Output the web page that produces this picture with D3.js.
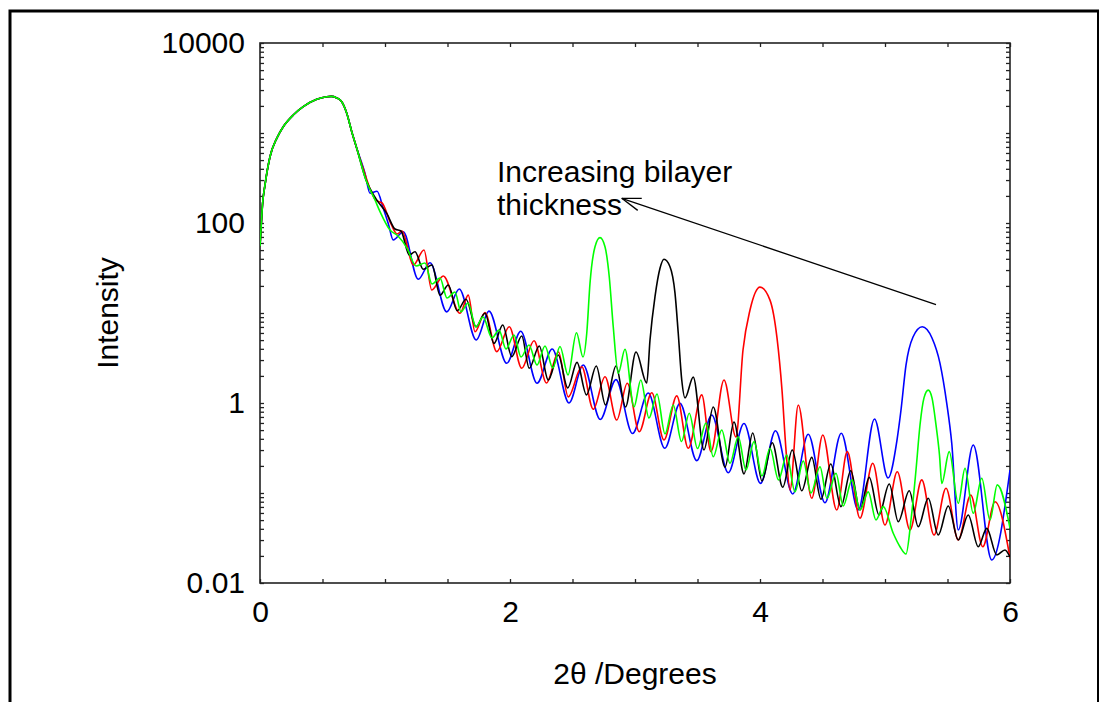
<!DOCTYPE html>
<html><head><meta charset="utf-8">
<script src="https://cdn.jsdelivr.net/npm/d3@7"></script>
<style>
body{margin:0;background:#fff}
svg text{font-family:"Liberation Sans",Arial,Helvetica,sans-serif}
</style>
</head><body>
<svg id="c" width="1099" height="702"></svg>
<script>
// ---------- data ----------
const xTickLabels = [0, 2, 4, 6];
const yTickLabels = [0.01, 1, 100, 10000];
const xLabel = "2\u03B8 /Degrees";
const yLabel = "Intensity";
const noteLines = ["Increasing bilayer", "thickness"];
const arrowX = [5.408, 2.894];
const arrowY = [12.4, 188];

// shared critical-edge part (all four scans)
const commonX = [0, 0.01, 0.02, 0.04, 0.08, 0.134, 0.186, 0.266, 0.346, 0.454, 0.534, 0.57, 0.61, 0.654, 0.694, 0.734, 0.774];
const commonY = [55, 95, 160, 265, 545, 873, 1175, 1585, 1960, 2366, 2530, 2550, 2470, 2228, 1656, 1033, 676];

const blueX = [0.84, 0.88, 0.936, 0.986, 1.026, 1.066, 1.146, 1.266, 1.36, 1.494, 1.594, 1.73, 1.832, 1.974, 2.086, 2.216, 2.338, 2.472, 2.586, 2.722, 2.848, 2.98, 3.106, 3.238, 3.36, 3.494, 3.614, 3.746, 3.872, 4.004, 4.124, 4.262, 4.386, 4.52, 4.65, 4.786, 4.916, 5.024, 5.096, 5.128, 5.168, 5.224, 5.298, 5.376, 5.44, 5.494, 5.534, 5.586, 5.706, 5.854, 6.0];
const blueY = [356, 214, 225, 146, 99, 64.7, 80, 23.7, 36.2, 10.3, 18.5, 5.01, 10.5, 2.76, 6.26, 1.66, 3.98, 1.0, 2.64, 0.656, 1.82, 0.458, 1.29, 0.314, 0.99, 0.229, 0.736, 0.168, 0.592, 0.128, 0.492, 0.0975, 0.449, 0.078, 0.461, 0.0647, 0.664, 0.147, 0.388, 0.836, 2.64, 5.41, 7.04, 5.28, 2.76, 0.99, 0.357, 0.0388, 0.341, 0.018, 0.18];

const redX = [0.824, 0.928, 0.976, 1.048, 1.096, 1.136, 1.226, 1.312, 1.374, 1.466, 1.6, 1.666, 1.72, 1.8, 1.894, 1.994, 2.094, 2.192, 2.292, 2.388, 2.466, 2.574, 2.666, 2.76, 2.854, 2.938, 3.034, 3.134, 3.232, 3.334, 3.426, 3.534, 3.608, 3.712, 3.808, 3.864, 3.92, 4.0, 4.08, 4.136, 4.176, 4.208, 4.24, 4.306, 4.414, 4.502, 4.614, 4.698, 4.8, 4.902, 5.0, 5.098, 5.2, 5.294, 5.392, 5.488, 5.586, 5.686, 5.782, 5.88, 6.0];
const redY = [408, 178, 167, 97.5, 75.5, 81.5, 34.1, 50.1, 18.0, 25.8, 9.93, 15.8, 6.2, 10.1, 3.72, 7.04, 2.43, 4.92, 1.67, 3.69, 1.17, 2.53, 0.851, 1.96, 0.647, 1.66, 0.48, 1.30, 0.388, 1.20, 0.314, 1.23, 0.288, 1.80, 0.419, 3.88, 10.8, 19.4, 13.9, 5.28, 1.39, 0.301, 0.108, 0.95, 0.0873, 0.441, 0.0647, 0.288, 0.0524, 0.214, 0.0441, 0.172, 0.0388, 0.14, 0.0341, 0.113, 0.0301, 0.095, 0.0253, 0.08, 0.019];

const blackX = [0.848, 0.928, 1.014, 1.08, 1.128, 1.194, 1.24, 1.306, 1.376, 1.44, 1.506, 1.578, 1.648, 1.728, 1.8, 1.872, 1.942, 2.014, 2.094, 2.154, 2.234, 2.306, 2.386, 2.462, 2.536, 2.612, 2.69, 2.764, 2.848, 2.924, 3.008, 3.094, 3.12, 3.16, 3.2, 3.232, 3.28, 3.32, 3.346, 3.374, 3.4, 3.466, 3.552, 3.626, 3.72, 3.792, 3.872, 3.942, 4.016, 4.098, 4.182, 4.258, 4.334, 4.414, 4.488, 4.566, 4.648, 4.726, 4.8, 4.874, 4.952, 5.034, 5.106, 5.194, 5.266, 5.346, 5.426, 5.506, 5.586, 5.666, 5.746, 5.814, 5.894, 5.96, 6.0];
const blackY = [300, 185, 128, 85.8, 81.5, 44.1, 48.0, 30.6, 34.1, 15.8, 20.5, 10.6, 14.2, 7.04, 9.93, 4.6, 7.36, 3.27, 5.55, 2.43, 4.3, 1.80, 3.41, 1.47, 2.83, 1.23, 2.58, 0.95, 2.58, 0.903, 3.69, 1.67, 5.01, 15.2, 31.4, 39.5, 32.7, 16.6, 5.95, 1.80, 1.14, 1.94, 0.301, 0.903, 0.194, 0.615, 0.163, 0.464, 0.136, 0.362, 0.116, 0.301, 0.106, 0.249, 0.0851, 0.21, 0.0705, 0.177, 0.0647, 0.149, 0.057, 0.126, 0.048, 0.106, 0.0422, 0.0873, 0.0341, 0.0717, 0.0301, 0.057, 0.0253, 0.0405, 0.0205, 0.0233, 0.0194];

const greenX = [0.848, 0.92, 0.96, 1.04, 1.104, 1.176, 1.248, 1.32, 1.376, 1.44, 1.496, 1.56, 1.608, 1.664, 1.728, 1.784, 1.856, 1.912, 1.968, 2.032, 2.088, 2.152, 2.216, 2.28, 2.342, 2.4, 2.464, 2.532, 2.584, 2.614, 2.64, 2.68, 2.72, 2.76, 2.794, 2.826, 2.866, 2.92, 2.992, 3.046, 3.112, 3.176, 3.24, 3.306, 3.372, 3.434, 3.5, 3.568, 3.626, 3.694, 3.76, 3.826, 3.888, 3.952, 4.016, 4.08, 4.148, 4.214, 4.28, 4.346, 4.408, 4.48, 4.536, 4.608, 4.666, 4.736, 4.8, 4.866, 4.928, 4.986, 5.066, 5.12, 5.168, 5.208, 5.248, 5.28, 5.312, 5.346, 5.376, 5.408, 5.436, 5.454, 5.514, 5.586, 5.64, 5.706, 5.774, 5.84, 5.898, 6.0];
const greenY = [300, 180, 134, 83.6, 71.7, 52.7, 33.3, 35.9, 21.0, 24.5, 14.7, 17.1, 10.3, 12.9, 6.99, 9.03, 5.28, 6.47, 3.98, 5.7, 3.24, 4.41, 2.64, 4.3, 2.45, 4.24, 2.05, 6.04, 3.24, 5.95, 21.4, 54.5, 68.7, 54.5, 25.3, 7.04, 2.14, 3.95, 0.903, 1.80, 0.681, 1.26, 0.453, 0.95, 0.373, 0.769, 0.312, 0.6, 0.253, 0.501, 0.214, 0.422, 0.18, 0.372, 0.155, 0.314, 0.14, 0.264, 0.103, 0.227, 0.1, 0.196, 0.0873, 0.166, 0.0717, 0.14, 0.0647, 0.103, 0.0501, 0.0705, 0.0357, 0.0253, 0.021, 0.0501, 0.18, 0.57, 1.14, 1.39, 1.14, 0.57, 0.264, 0.128, 0.288, 0.0769, 0.188, 0.0595, 0.146, 0.0501, 0.123, 0.0408];

// ---------- chart ----------
const svg = d3.select("#c");
const pL = 260, pR = 1010, pT = 43, pB = 583;
const FS = 30;

const x = d3.scaleLinear().domain([0, 6]).range([pL, pR]);
const y = d3.scaleLog().domain([0.01, 10000]).range([pB, pT]);

// outer frame
svg.append("rect").attr("x", 10).attr("y", 11).attr("width", 1088.5).attr("height", 760)
  .attr("fill", "none").attr("stroke", "#000").attr("stroke-width", 3);

// minor tick values
const yMinor = [];
for (let e = -2; e < 4; e++) for (let m = 1; m < 10; m++) yMinor.push(m * Math.pow(10, e));
yMinor.push(10000);
const xMinor = d3.range(0, 6.001, 0.5);

function styleAxis(g) {
  g.select(".domain").remove();
  g.selectAll(".tick line").attr("stroke", "#222").attr("stroke-width", 1.3);
  g.selectAll(".tick text").attr("font-size", FS).attr("fill", "#000")
    .attr("font-family", "'Liberation Sans', Arial, sans-serif");
}

const fmtX = d => xTickLabels.includes(+d.toFixed(3)) ? String(d) : "";
const fmtY = d => {
  const hit = yTickLabels.find(v => Math.abs(v - d) / v < 1e-6);
  return hit !== undefined ? String(hit) : "";
};

svg.append("g").attr("transform", `translate(0,${pB})`)
  .call(d3.axisBottom(x).tickValues(xMinor).tickSize(-4).tickSizeOuter(0).tickPadding(18).tickFormat(fmtX))
  .call(styleAxis);
svg.append("g").attr("transform", `translate(0,${pT})`)
  .call(d3.axisTop(x).tickValues(xMinor).tickSize(-4).tickSizeOuter(0).tickFormat(() => ""))
  .call(styleAxis);
svg.append("g").attr("transform", `translate(${pL},0)`)
  .call(d3.axisLeft(y).tickValues(yMinor).tickSize(-4).tickSizeOuter(0).tickPadding(15).tickFormat(fmtY))
  .call(styleAxis);
svg.append("g").attr("transform", `translate(${pR},0)`)
  .call(d3.axisRight(y).tickValues(yMinor).tickSize(-4).tickSizeOuter(0).tickFormat(() => ""))
  .call(styleAxis);

// plot box
svg.append("rect").attr("x", pL).attr("y", pT).attr("width", pR - pL).attr("height", pB - pT)
  .attr("fill", "none").attr("stroke", "#222").attr("stroke-width", 1.6);

// clip
svg.append("clipPath").attr("id", "clip").append("rect")
  .attr("x", pL).attr("y", pT).attr("width", pR - pL).attr("height", pB - pT);

const line = d3.line().x(d => x(d[0])).y(d => y(d[1])).curve(d3.curveMonotoneX);
const build = (xs, ys) => d3.zip(commonX.concat(xs), commonY.concat(ys));

const series = [
  {name: "blue", color: "#0000ff", pts: build(blueX, blueY)},
  {name: "red", color: "#ff0000", pts: build(redX, redY)},
  {name: "black", color: "#000000", pts: build(blackX, blackY)},
  {name: "green", color: "#00ff00", pts: build(greenX, greenY)}
];

svg.append("g").attr("clip-path", "url(#clip)")
  .selectAll("path").data(series).join("path")
  .attr("d", d => line(d.pts))
  .attr("fill", "none")
  .attr("stroke", d => d.color)
  .attr("stroke-width", 1.6)
  .attr("stroke-linejoin", "round");

// axis titles
svg.append("text").attr("x", (pL + pR) / 2).attr("y", 684)
  .attr("text-anchor", "middle").attr("font-size", FS).text(xLabel);
svg.append("text").attr("transform", `translate(118,${(pT + pB) / 2}) rotate(-90)`)
  .attr("text-anchor", "middle").attr("font-size", FS).text(yLabel);

// annotation
svg.append("text").attr("x", 497).attr("y", 182).attr("font-size", FS).text(noteLines[0]);
svg.append("text").attr("x", 497).attr("y", 215).attr("font-size", FS).text(noteLines[1]);

const tx = x(arrowX[0]), ty = y(arrowY[0]), hx = x(arrowX[1]), hy = y(arrowY[1]);
svg.append("line").attr("x1", tx).attr("y1", ty).attr("x2", hx).attr("y2", hy)
  .attr("stroke", "#000").attr("stroke-width", 1.3);
const ang = Math.atan2(ty - hy, tx - hx);
const AL = 20, spread = 0.32;
[ang - spread, ang + spread].forEach(a => {
  svg.append("line").attr("x1", hx).attr("y1", hy)
    .attr("x2", hx + AL * Math.cos(a)).attr("y2", hy + AL * Math.sin(a))
    .attr("stroke", "#000").attr("stroke-width", 1.3);
});
</script>
</body></html>
